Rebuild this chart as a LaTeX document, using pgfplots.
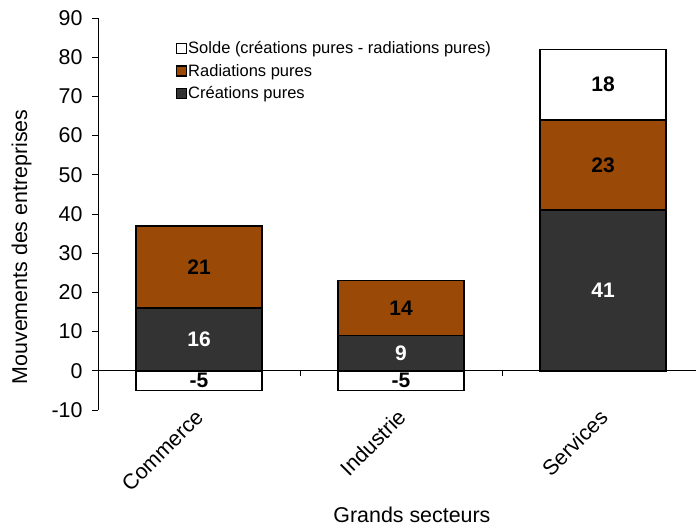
\documentclass[border=0pt]{standalone}
\usepackage{pgfplots}
\pgfplotsset{compat=1.18}
\usepackage{fontspec}
\setmainfont{Liberation Sans}
\definecolor{dgray}{HTML}{333333}
\definecolor{brn}{HTML}{9A4A06}
\begin{document}
\begin{tikzpicture}
\pgfplotsset{
  common/.style={
    scale only axis, width=598pt, height=392pt,
    xmin=-0.5, xmax=2.46, ymin=-10, ymax=90,
  },
}
\begin{axis}[common,
  ybar stacked, bar width=0.625,
  axis line style={draw=none},
  ytick={-10,0,...,90},
  ytick pos=left, ytick align=outside,
  major tick length=6pt,
  tick style={black, line width=0.8pt},
  xtick={0,1,2},
  xticklabels={Commerce,Industrie,Services},
  xtick style={draw=none},
  xticklabel style={rotate=45, anchor=north east, font=\fontsize{21.4}{25}\selectfont, inner sep=2pt, yshift=7pt, xshift=0pt},
  yticklabel style={font=\fontsize{21.4}{25}\selectfont, xshift=-6pt},
  /pgf/number format/assume math mode=true,
  ylabel={Mouvements des entreprises},
  ylabel style={at={(axis description cs:-0.1276,0.416)}, anchor=center, font=\fontsize{21.4}{25}\selectfont},
  xlabel={Grands secteurs},
  xlabel style={at={(axis description cs:0.525,-0.296)}, anchor=south, font=\fontsize{21.4}{25}\selectfont},
  legend style={draw=none, fill=none, at={(axis description cs:0.13,0.943)}, anchor=north west,
    font=\fontsize{16.5}{19}\selectfont, row sep=7pt, inner sep=0pt,
    nodes={inner sep=1pt}},
  legend cell align=left,
  reverse legend,
  legend image code/.code={\draw[#1, line width=1.3pt, draw=black] (0pt,-5pt) rectangle (10pt,5pt);},
  clip=false,
]
\addplot[fill=dgray, draw=black, line width=1.5pt] coordinates {(0,16) (1,9) (2,41)};
\addlegendentry{Créations pures}
\addplot[fill=brn, draw=black, line width=1.5pt] coordinates {(0,21) (1,14) (2,23)};
\addlegendentry{Radiations pures}
\addplot[fill=white, draw=black, line width=1.5pt] coordinates {(0,0) (1,0) (2,18)};
\addlegendentry{Solde (créations pures - radiations pures)}
\draw[black, line width=0.8pt] (rel axis cs:0,0) -- (rel axis cs:0,1);
\draw[black, line width=0.8pt] (axis cs:-0.5,0) -- (axis cs:2.46,0);
\draw[black, line width=0.8pt] (axis cs:0.5,0) -- ([yshift=-5pt]axis cs:0.5,0);
\draw[black, line width=0.8pt] (axis cs:1.5,0) -- ([yshift=-5pt]axis cs:1.5,0);
\coordinate (sw) at (rel axis cs:0,0);
\coordinate (ne) at (rel axis cs:1,1);
\end{axis}
\begin{axis}[common, hide axis, clip=false]
\addplot[ybar, bar width=0.625, fill=white, draw=black, line width=1.5pt] coordinates {(0,-5) (1,-5)};
\addplot[only marks, mark=none, nodes near coords, point meta=explicit symbolic,
  nodes near coords style={anchor=center, text=white, font=\bfseries\fontsize{21}{25}\selectfont}]
  coordinates {(0,8)[16] (1,4.5)[9] (2,20.5)[41]};
\addplot[only marks, mark=none, nodes near coords, point meta=explicit symbolic,
  nodes near coords style={anchor=center, text=black, font=\bfseries\fontsize{21}{25}\selectfont}]
  coordinates {(0,26.5)[21] (1,16)[14] (2,52.5)[23] (2,73)[18] (0,-2.5)[-5] (1,-2.5)[-5]};
\end{axis}
\pgfresetboundingbox
\path ([xshift=-98pt,yshift=-118pt]sw) rectangle ([yshift=18pt]ne);
\end{tikzpicture}
\end{document}
